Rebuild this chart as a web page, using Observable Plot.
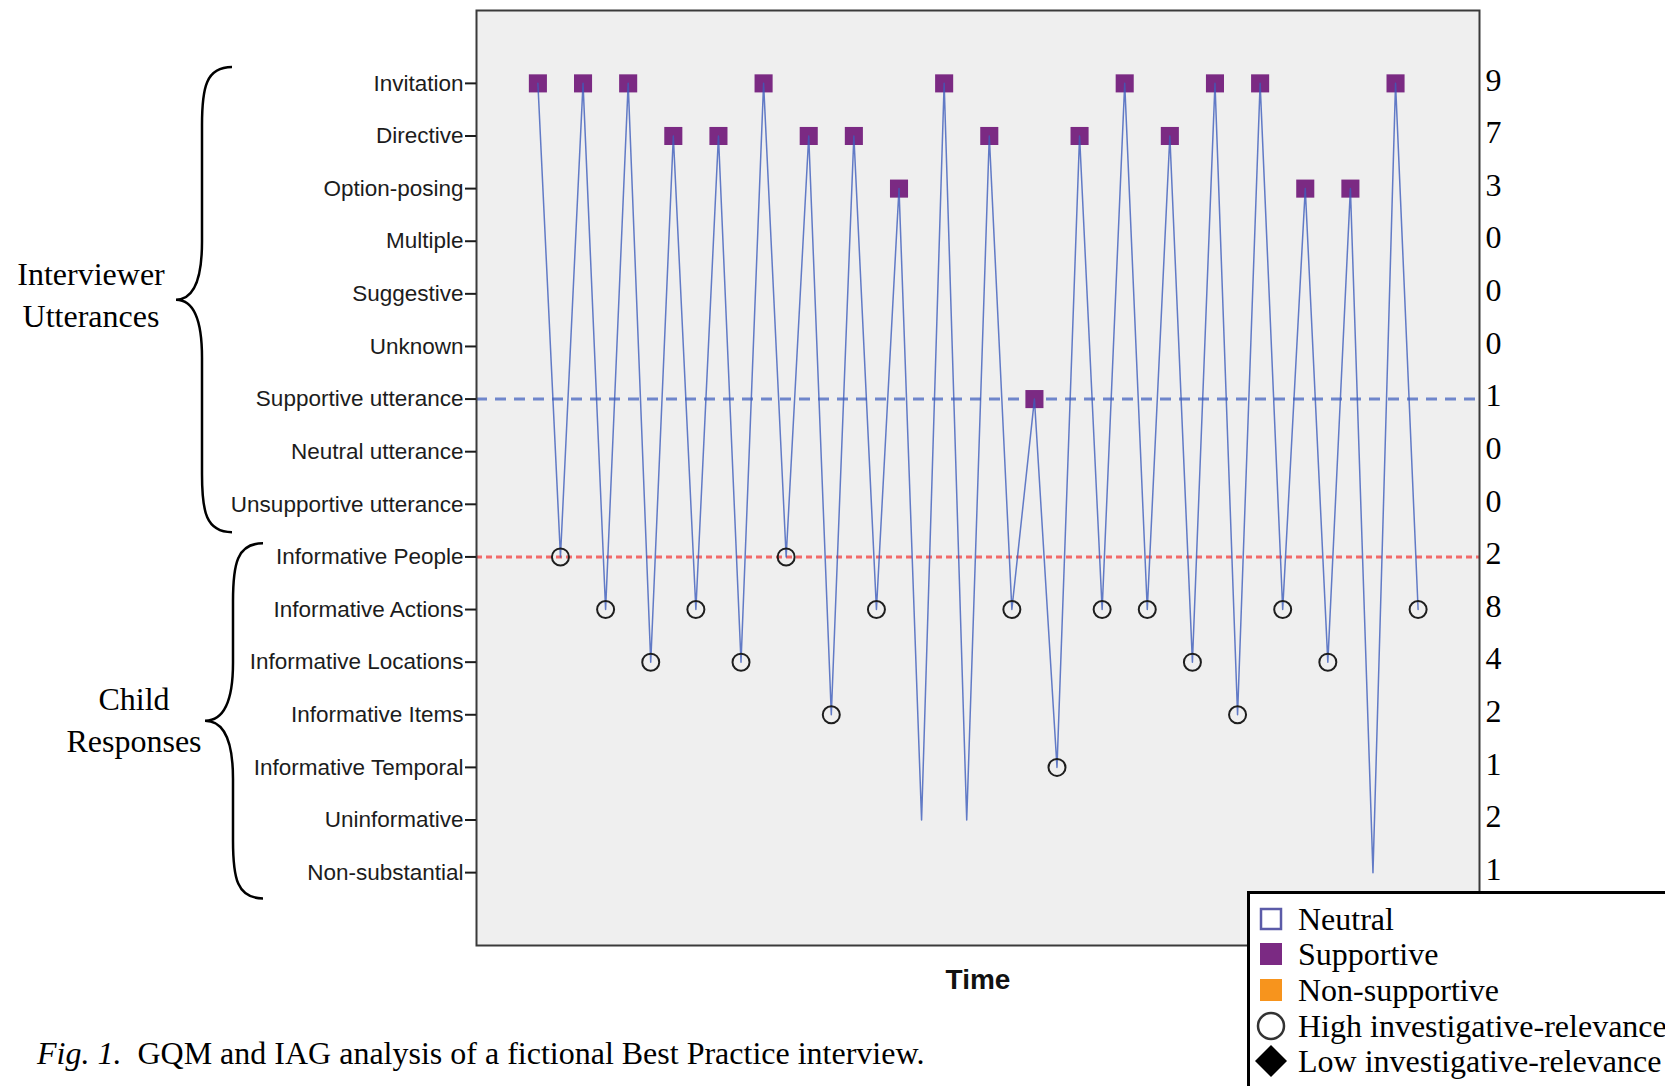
<!DOCTYPE html>
<html>
<head>
<meta charset="utf-8">
<script src="https://cdn.jsdelivr.net/npm/d3@7"></script>
<script src="https://cdn.jsdelivr.net/npm/@observablehq/plot@0.6"></script>
<style>
html, body { margin: 0; padding: 0; background: #fff; }
body { width: 1665px; height: 1086px; overflow: hidden; position: relative; }
#chart { position: absolute; left: 0; top: 0; }
#caption { position: absolute; left: 37px; top: 1037px; font-family: "Liberation Serif", "Times New Roman", serif; font-size: 32px; line-height: 32px; white-space: pre; color: #000; }
#legend { position: absolute; left: 1247px; top: 891px; width: 440px; height: 210px; border: 3px solid #000; background: #fff; box-sizing: border-box; }
</style>
</head>
<body>
<div id="chart"></div>
<div id="caption"><i>Fig. 1.</i>  GQM and IAG analysis of a fictional Best Practice interview.</div>
<div id="legend"></div>
<script>
// ---- data ----
const categories = [
  "Invitation", "Directive", "Option-posing", "Multiple", "Suggestive", "Unknown",
  "Supportive utterance", "Neutral utterance", "Unsupportive utterance",
  "Informative People", "Informative Actions", "Informative Locations",
  "Informative Items", "Informative Temporal", "Uninformative", "Non-substantial"
];
const counts = [9, 7, 3, 0, 0, 0, 1, 0, 0, 2, 8, 4, 2, 1, 2, 1];

// sequence of turns over time (interviewer utterance, child response, ...)
const sequence = [
  "Invitation", "Informative People",
  "Invitation", "Informative Actions",
  "Invitation", "Informative Locations",
  "Directive", "Informative Actions",
  "Directive", "Informative Locations",
  "Invitation", "Informative People",
  "Directive", "Informative Items",
  "Directive", "Informative Actions",
  "Option-posing", "Uninformative",
  "Invitation", "Uninformative",
  "Directive", "Informative Actions",
  "Supportive utterance", "Informative Temporal",
  "Directive", "Informative Actions",
  "Invitation", "Informative Actions",
  "Directive", "Informative Locations",
  "Invitation", "Informative Items",
  "Invitation", "Informative Actions",
  "Option-posing", "Informative Locations",
  "Option-posing", "Non-substantial",
  "Invitation", "Informative Actions"
];
const markers = [
  "Supportive", "High", "Supportive", "High", "Supportive", "High", "Supportive", "High",
  "Supportive", "High", "Supportive", "High", "Supportive", "High", "Supportive", "High",
  "Supportive", "None", "Supportive", "None", "Supportive", "High", "Supportive", "High",
  "Supportive", "High", "Supportive", "High", "Supportive", "High", "Supportive", "High",
  "Supportive", "High", "Supportive", "High", "Supportive", "None", "Supportive", "High"
];
const refSupportive = ["Supportive utterance"];
const refPeople = ["Informative People"];

const legendLabels = ["Neutral", "Supportive", "Non-supportive", "High investigative-relevance", "Low investigative-relevance"];
const legendSymbols = ["openSquare", "square", "orangeSquare", "circle", "diamond"];

const timeLabel = "Time";
const groupLabels = [["Interviewer", "Utterances"], ["Child", "Responses"]];

// ---- build table ----
const turns = sequence.map((cat, i) => ({t: i + 1, cat, marker: markers[i]}));
const countByCat = new Map(categories.map((c, i) => [c, counts[i]]));

const purple = "#7b2a83";
const sans = "'Liberation Sans', Arial, sans-serif";
const serif = "'Liberation Serif', 'Times New Roman', serif";

const plot = Plot.plot({
  width: 1665,
  height: 1000,
  marginLeft: 476,
  marginRight: 186,
  marginTop: 10,
  marginBottom: 55,
  style: {background: "transparent", color: "#1c1c1c", fontFamily: sans, overflow: "visible"},
  x: {domain: [-1.72, 42.72], axis: null},
  y: {type: "point", domain: categories, padding: 1.385, round: false},
  marks: [
    Plot.frame({fill: "#efefef"}),
    Plot.ruleY(refSupportive, {stroke: "#6f86cb", strokeWidth: 3, strokeDasharray: "11,8"}),
    Plot.ruleY(refPeople, {stroke: "#f26a6a", strokeWidth: 3, strokeDasharray: "6,4"}),
    Plot.dot(turns.filter(d => d.marker === "Supportive"), {x: "t", y: "cat", symbol: "square", r: 10.2, fill: purple, stroke: "none"}),
    Plot.line(turns, {x: "t", y: "cat", stroke: "#3d5cbc", strokeWidth: 1.5, strokeOpacity: 0.8}),
    Plot.dot(turns.filter(d => d.marker === "High"), {x: "t", y: "cat", r: 8.5, stroke: "#1e1e1e", strokeWidth: 2, fill: "none"}),
    Plot.frame({stroke: "#3a3a3a", strokeWidth: 2}),
    Plot.axisY({anchor: "left", label: null, tickSize: 11, tickPadding: 2, fontSize: 22.5, fontFamily: sans, strokeWidth: 2}),
    Plot.axisY({anchor: "right", label: null, tickSize: 0, tickPadding: 6, dy: -3, fontSize: 32, fontFamily: serif, textAnchor: "start", fill: "#000", tickFormat: d => countByCat.get(d)}),
    Plot.text([timeLabel], {frameAnchor: "bottom", dy: 35, lineAnchor: "middle", fontSize: 28, fontWeight: "bold", fontFamily: sans, fill: "#111"})
  ]
});
document.getElementById("chart").appendChild(plot);

// ---- brace annotations, positioned from the y scale ----
const ys = plot.scale("y");
const yp = c => ys.apply(c);
const step = yp(categories[1]) - yp(categories[0]);
const svg = d3.select(plot);
const g = svg.append("g");

function bracePath(xe, xs, xp, top, bottom) {
  const mid = (top + bottom) / 2;
  const r = 58;
  return `M${xe},${top}` +
    ` C${xs + 4},${top} ${xs},${top + r * 0.35} ${xs},${top + r}` +
    ` L${xs},${mid - r}` +
    ` C${xs},${mid - r * 0.3} ${xs - (xs - xp) * 0.35},${mid} ${xp},${mid}` +
    ` C${xs - (xs - xp) * 0.35},${mid} ${xs},${mid + r * 0.3} ${xs},${mid + r}` +
    ` L${xs},${bottom - r}` +
    ` C${xs},${bottom - r * 0.35} ${xs + 4},${bottom} ${xe},${bottom}`;
}

const braces = [
  {xe: 232, xs: 202, xp: 176, top: yp("Invitation") - 0.3 * step, bottom: yp("Unsupportive utterance") + 0.54 * step, tx: 91, d1: -15, d2: 27},
  {xe: 263, xs: 233, xp: 205, top: yp("Informative People") - 0.25 * step, bottom: yp("Non-substantial") + 0.5 * step, tx: 134, d1: -11, d2: 31}
];
braces.forEach((b, i) => {
  g.append("path")
    .attr("d", bracePath(b.xe, b.xs, b.xp, b.top, b.bottom))
    .attr("fill", "none").attr("stroke", "#000").attr("stroke-width", 2.5);
  const mid = (b.top + b.bottom) / 2;
  g.append("text").attr("x", b.tx).attr("y", mid + b.d1)
    .attr("text-anchor", "middle").attr("font-family", serif).attr("font-size", 32).attr("fill", "#000")
    .text(groupLabels[i][0]);
  g.append("text").attr("x", b.tx).attr("y", mid + b.d2)
    .attr("text-anchor", "middle").attr("font-family", serif).attr("font-size", 32).attr("fill", "#000")
    .text(groupLabels[i][1]);
});

// ---- legend ----
const lg = d3.select("#legend").append("svg").attr("width", 440).attr("height", 210);
const rowY = [25, 60, 96, 132, 167];
legendLabels.forEach((lab, i) => {
  const cy = rowY[i];
  const cx = 21;
  const s = legendSymbols[i];
  if (s === "openSquare") {
    lg.append("rect").attr("x", cx - 10).attr("y", cy - 10).attr("width", 20).attr("height", 20)
      .attr("fill", "#fff").attr("stroke", "#5b5ba8").attr("stroke-width", 2.5);
  } else if (s === "square" || s === "orangeSquare") {
    lg.append("rect").attr("x", cx - 11).attr("y", cy - 11).attr("width", 22).attr("height", 22)
      .attr("fill", s === "square" ? purple : "#f7941d");
  } else if (s === "circle") {
    lg.append("circle").attr("cx", cx).attr("cy", cy).attr("r", 13)
      .attr("fill", "#fff").attr("stroke", "#333").attr("stroke-width", 2.5);
  } else {
    lg.append("path").attr("d", `M${cx},${cy - 16} L${cx + 16},${cy} L${cx},${cy + 16} L${cx - 16},${cy} Z`).attr("fill", "#000");
  }
  lg.append("text").attr("x", 48).attr("y", cy + 11)
    .attr("font-family", serif).attr("font-size", 32).attr("fill", "#000").text(lab);
});
</script>
</body>
</html>
